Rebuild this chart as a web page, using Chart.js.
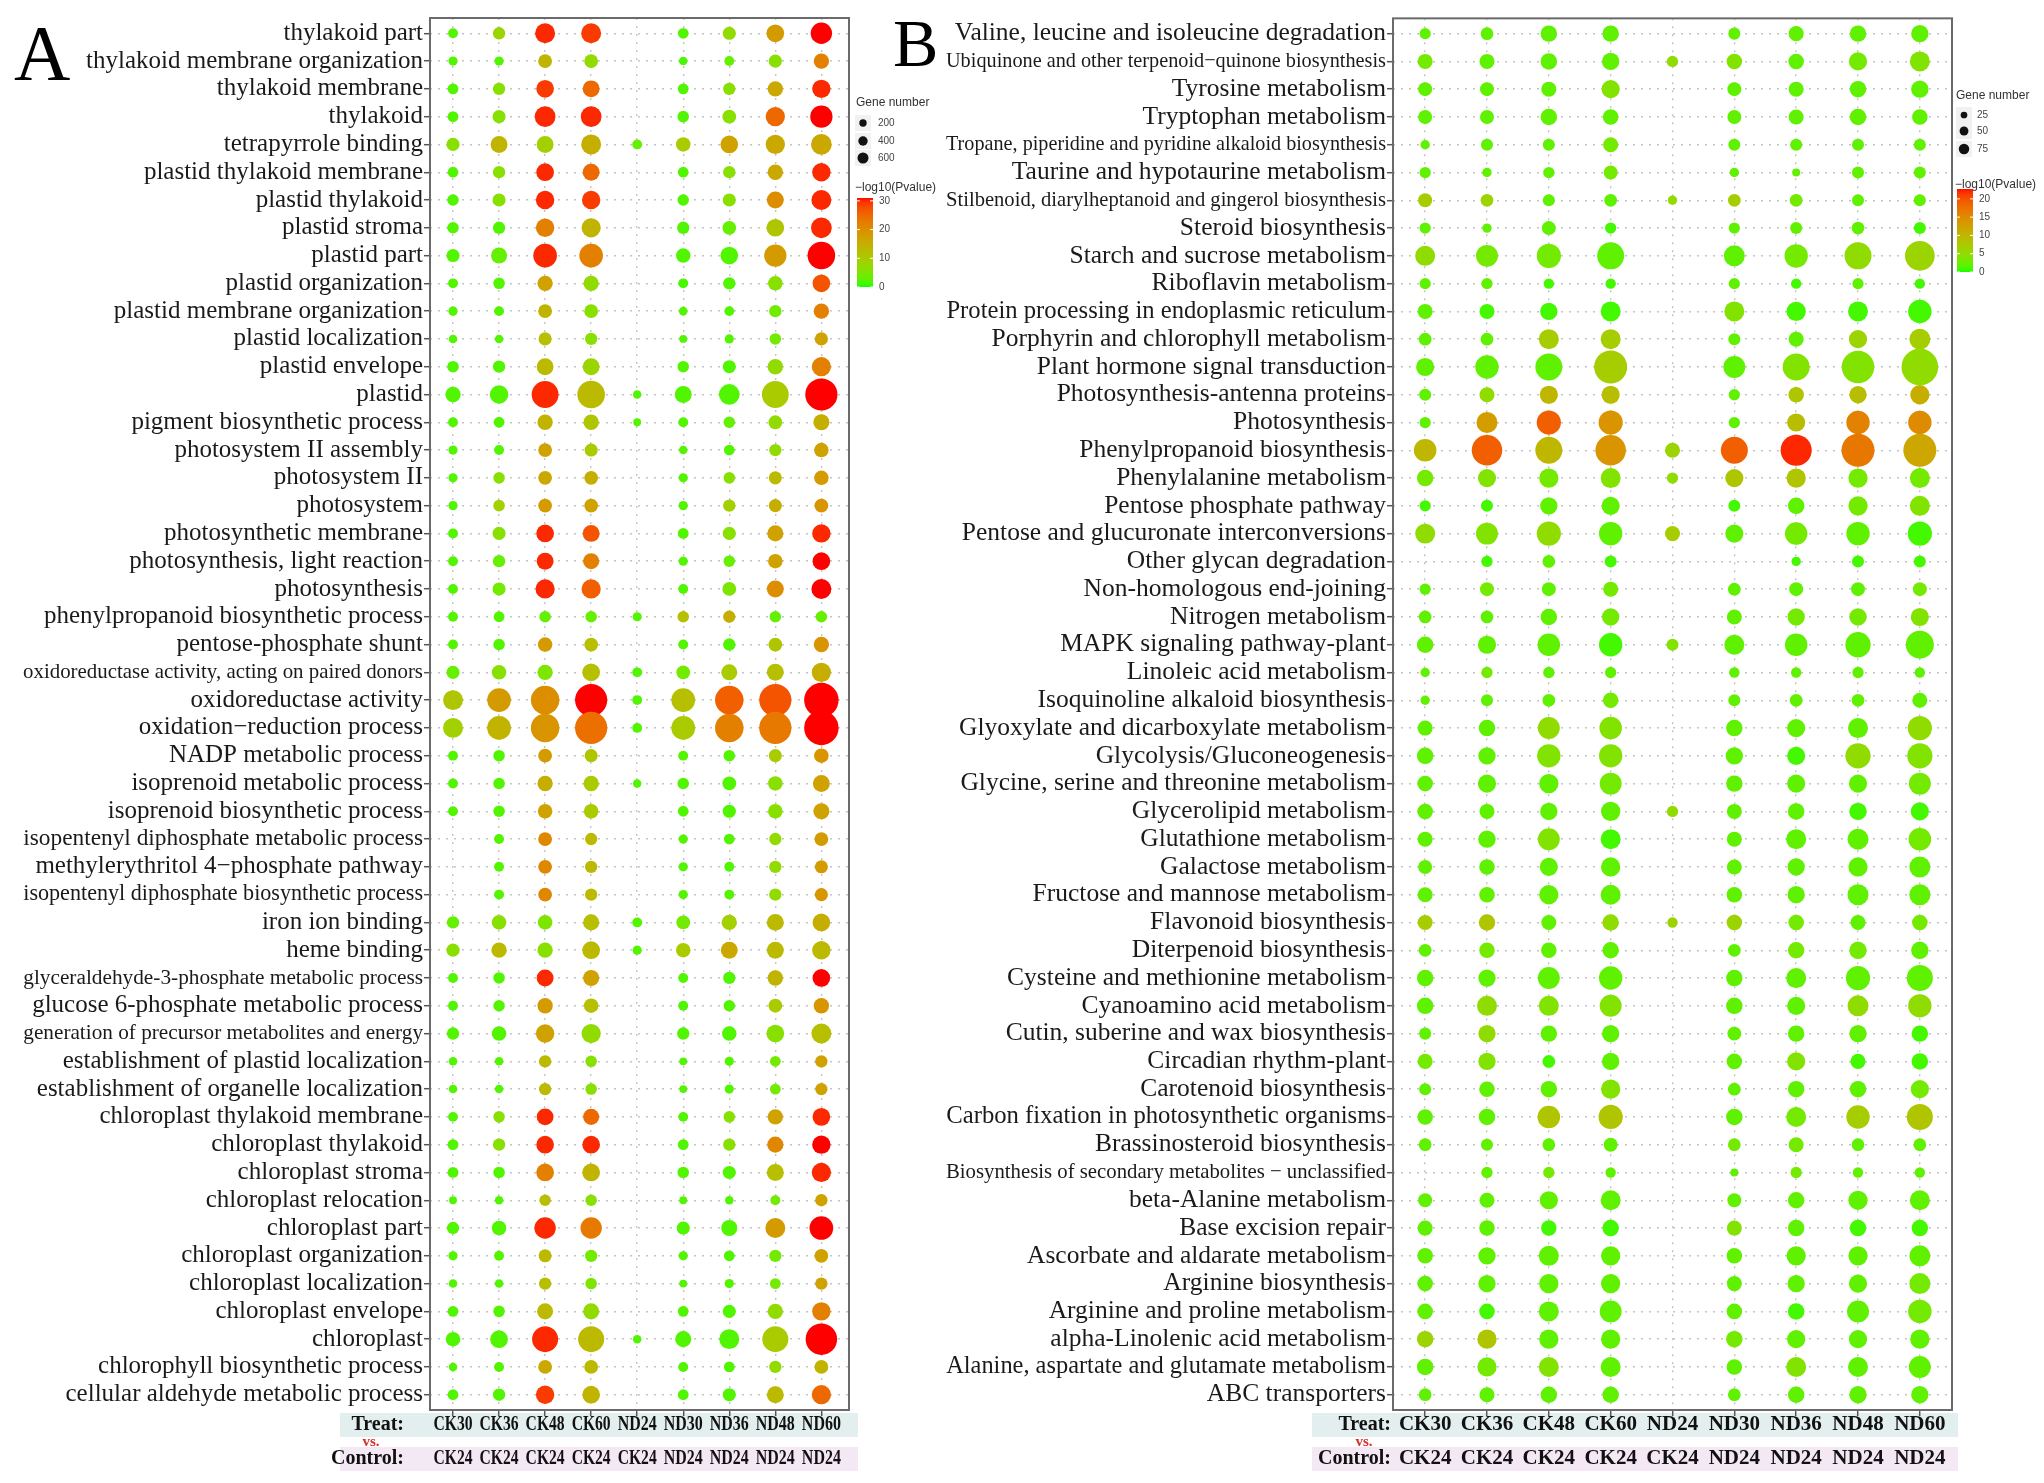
<!DOCTYPE html>
<html lang="en">
<head>
<meta charset="UTF-8">
<title>GO / KEGG enrichment bubble charts</title>
<script src="https://cdn.jsdelivr.net/npm/chart.js"></script>
<style>
  body { margin: 0; background: #fff; }
  #wrap { position: relative; width: 2044px; height: 1483px; }
  canvas { position: absolute; top: 0; }
  #chartA { left: 0; }
  #chartB { left: 880px; }
</style>
</head>
<body>
<div id="wrap">
  <canvas id="chartA" width="945" height="1483" style="width:945px;height:1483px"></canvas>
  <canvas id="chartB" width="1164" height="1483" style="width:1164px;height:1483px"></canvas>
</div>
<script>
// ---------- panel A : GO terms ----------
const treatA = ["CK30", "CK36", "CK48", "CK60", "ND24", "ND30", "ND36", "ND48", "ND60"];
const controlA = ["CK24", "CK24", "CK24", "CK24", "CK24", "ND24", "ND24", "ND24", "ND24"];
const termsA = [
  "thylakoid part", "thylakoid membrane organization", "thylakoid membrane", "thylakoid",
  "tetrapyrrole binding", "plastid thylakoid membrane", "plastid thylakoid", "plastid stroma",
  "plastid part", "plastid organization", "plastid membrane organization", "plastid localization",
  "plastid envelope", "plastid", "pigment biosynthetic process", "photosystem II assembly",
  "photosystem II", "photosystem", "photosynthetic membrane", "photosynthesis, light reaction",
  "photosynthesis", "phenylpropanoid biosynthetic process", "pentose-phosphate shunt",
  "oxidoreductase activity, acting on paired donors", "oxidoreductase activity",
  "oxidation\u2212reduction process", "NADP metabolic process", "isoprenoid metabolic process",
  "isoprenoid biosynthetic process", "isopentenyl diphosphate metabolic process",
  "methylerythritol 4\u2212phosphate pathway", "isopentenyl diphosphate biosynthetic process",
  "iron ion binding", "heme binding", "glyceraldehyde-3-phosphate metabolic process",
  "glucose 6-phosphate metabolic process", "generation of precursor metabolites and energy",
  "establishment of plastid localization", "establishment of organelle localization",
  "chloroplast thylakoid membrane", "chloroplast thylakoid", "chloroplast stroma",
  "chloroplast relocation", "chloroplast part", "chloroplast organization",
  "chloroplast localization", "chloroplast envelope", "chloroplast",
  "chlorophyll biosynthetic process", "cellular aldehyde metabolic process"
];
// gene number per term (rows) and comparison (columns); null = not enriched
const genesA = [
  [10, 33, 190, 190, null, 17, 43, 130, 235],
  [6, 6, 53, 53, null, 3, 10, 43, 80],
  [17, 33, 130, 112, null, 17, 33, 80, 148],
  [17, 43, 213, 213, null, 24, 53, 170, 265],
  [43, 112, 112, 190, 10, 65, 130, 170, 213],
  [17, 33, 130, 112, null, 17, 33, 80, 148],
  [24, 43, 148, 148, null, 24, 43, 112, 190],
  [24, 33, 148, 170, null, 33, 53, 130, 213],
  [43, 94, 315, 315, null, 65, 130, 265, 478],
  [10, 24, 80, 80, null, 10, 33, 65, 130],
  [6, 10, 53, 53, null, 3, 10, 33, 80],
  [3, 3, 43, 33, null, 1, 6, 24, 43],
  [24, 33, 112, 112, null, 24, 43, 80, 170],
  [80, 148, 445, 478, 3, 112, 213, 445, 714],
  [10, 17, 80, 80, 1, 10, 24, 53, 94],
  [6, 10, 53, 43, null, 3, 17, 33, 65],
  [6, 24, 53, 53, null, 6, 24, 43, 65],
  [6, 24, 53, 53, null, 6, 33, 43, 53],
  [10, 43, 130, 112, null, 17, 43, 94, 148],
  [10, 33, 112, 94, null, 6, 24, 65, 130],
  [10, 43, 170, 170, null, 10, 53, 112, 190],
  [10, 17, 24, 24, 6, 24, 33, 24, 24],
  [10, 24, 65, 53, null, 10, 33, 53, 80],
  [43, 65, 80, 130, 10, 53, 94, 112, 170],
  [190, 315, 520, 714, 10, 315, 520, 714, 850],
  [190, 315, 520, 714, 10, 315, 520, 714, 850],
  [10, 24, 53, 43, null, 10, 24, 43, 65],
  [10, 24, 80, 80, 3, 24, 53, 65, 112],
  [10, 24, 65, 65, null, 17, 43, 65, 94],
  [null, 10, 53, 33, null, 6, 17, 33, 53],
  [null, 10, 53, 33, null, 6, 10, 33, 43],
  [null, 10, 53, 33, null, 6, 10, 33, 43],
  [33, 65, 65, 94, 10, 53, 80, 112, 130],
  [43, 80, 80, 130, 6, 65, 112, 112, 148],
  [10, 24, 112, 94, null, 10, 33, 80, 130],
  [10, 24, 80, 65, null, 10, 24, 53, 80],
  [33, 65, 148, 170, null, 33, 65, 130, 190],
  [3, 3, 33, 24, null, 1, 6, 17, 33],
  [3, 3, 33, 24, null, 1, 6, 17, 33],
  [10, 24, 112, 94, null, 10, 24, 80, 130],
  [17, 33, 130, 130, null, 17, 33, 94, 148],
  [17, 24, 130, 130, null, 24, 43, 112, 170],
  [1, 3, 24, 24, null, 1, 3, 10, 33],
  [33, 65, 235, 235, null, 43, 94, 190, 315],
  [6, 10, 43, 33, null, 6, 17, 33, 53],
  [3, 3, 33, 24, null, 1, 6, 17, 33],
  [17, 24, 94, 94, null, 17, 43, 80, 148],
  [65, 130, 408, 408, 3, 94, 190, 408, 675],
  [3, 10, 53, 53, null, 10, 17, 33, 53],
  [17, 33, 148, 130, null, 17, 43, 112, 170]
];
// -log10(Pvalue)
const logpA = [
  [2, 8, 30, 29, null, 2, 7, 18, 31],
  [2, 2, 14, 7, null, 1.5, 3, 6, 22],
  [2, 6, 29, 25, null, 2, 6, 16, 30],
  [2, 6, 30, 30, null, 2, 6, 25, 31],
  [6, 14, 9, 15, 3, 10, 17, 16, 16],
  [2, 6, 30, 25, null, 2, 6, 16, 30],
  [2, 6, 30, 29, null, 2, 6, 20, 30],
  [2, 2, 22, 14, null, 2, 3, 11, 30],
  [2, 3, 30, 22, null, 2, 2, 18, 31],
  [2, 2, 17, 7, null, 1.5, 2, 6, 27],
  [2, 2, 14, 6, null, 2, 2, 4, 22],
  [2, 2, 12, 6, null, 2, 2, 4, 17],
  [2, 2, 13, 8, null, 2, 2, 7, 22],
  [2, 2, 30, 13, 2, 2, 2, 10, 31],
  [2, 2, 14, 11, 2, 2, 3, 7, 15],
  [2, 2, 17, 10, null, 2, 2, 7, 17],
  [2, 6, 16, 15, null, 2, 6, 13, 18],
  [2, 9, 18, 17, null, 2, 9, 15, 19],
  [2, 6, 30, 27, null, 2, 6, 17, 30],
  [2, 3, 30, 22, null, 2, 3, 17, 31],
  [2, 4, 30, 26, null, 2, 5, 20, 31],
  [2, 2, 3, 3, 2, 12, 15, 3, 3],
  [2, 2, 18, 12, null, 2, 2, 11, 19],
  [3, 6, 5, 12, 2, 4, 10, 12, 15],
  [11, 18, 20, 31, 2, 12, 26, 27, 31],
  [9, 14, 19, 24, 2, 10, 22, 23, 31],
  [2, 2, 18, 11, null, 2, 2, 10, 19],
  [2, 2, 15, 10, 2, 2, 2, 6, 17],
  [2, 2, 17, 10, null, 2, 2, 6, 17],
  [null, 2, 21, 13, null, 2, 2, 7, 18],
  [null, 2, 21, 13, null, 2, 2, 7, 18],
  [null, 2, 21, 13, null, 2, 2, 7, 19],
  [3, 6, 5, 12, 2, 4, 9, 13, 15],
  [6, 13, 6, 13, 2, 10, 16, 13, 13],
  [2, 2, 30, 17, null, 2, 2, 14, 31],
  [2, 2, 18, 12, null, 2, 2, 10, 19],
  [2, 2, 17, 7, null, 2, 2, 6, 12],
  [2, 2, 13, 6, null, 2, 2, 4, 17],
  [2, 2, 13, 6, null, 2, 2, 4, 17],
  [2, 6, 30, 25, null, 2, 6, 17, 30],
  [2, 6, 30, 30, null, 2, 6, 21, 31],
  [2, 2, 22, 14, null, 2, 2, 12, 30],
  [2, 2, 12, 6, null, 2, 2, 4, 17],
  [2, 2, 30, 23, null, 2, 2, 18, 31],
  [2, 2, 13, 4, null, 2, 2, 4, 17],
  [2, 2, 12, 5, null, 2, 2, 4, 17],
  [2, 2, 13, 7, null, 2, 2, 7, 22],
  [2, 2, 30, 13, 2, 2, 2, 10, 31],
  [2, 2, 16, 13, null, 2, 2, 7, 14],
  [2, 2, 29, 14, null, 2, 2, 13, 25]
];
const sizeBreaksA = [200, 400, 600];
const colorBreaksA = [0, 10, 20, 30];

// ---------- panel B : KEGG pathways ----------
const treatB = ["CK30", "CK36", "CK48", "CK60", "ND24", "ND30", "ND36", "ND48", "ND60"];
const controlB = ["CK24", "CK24", "CK24", "CK24", "CK24", "ND24", "ND24", "ND24", "ND24"];
const termsB = [
  "Valine, leucine and isoleucine degradation", "Ubiquinone and other terpenoid\u2212quinone biosynthesis",
  "Tyrosine metabolism", "Tryptophan metabolism", "Tropane, piperidine and pyridine alkaloid biosynthesis",
  "Taurine and hypotaurine metabolism", "Stilbenoid, diarylheptanoid and gingerol biosynthesis",
  "Steroid biosynthesis", "Starch and sucrose metabolism", "Riboflavin metabolism",
  "Protein processing in endoplasmic reticulum", "Porphyrin and chlorophyll metabolism",
  "Plant hormone signal transduction", "Photosynthesis-antenna proteins", "Photosynthesis",
  "Phenylpropanoid biosynthesis", "Phenylalanine metabolism", "Pentose phosphate pathway",
  "Pentose and glucuronate interconversions", "Other glycan degradation", "Non-homologous end-joining",
  "Nitrogen metabolism", "MAPK signaling pathway-plant", "Linoleic acid metabolism",
  "Isoquinoline alkaloid biosynthesis", "Glyoxylate and dicarboxylate metabolism",
  "Glycolysis/Gluconeogenesis", "Glycine, serine and threonine metabolism", "Glycerolipid metabolism",
  "Glutathione metabolism", "Galactose metabolism", "Fructose and mannose metabolism",
  "Flavonoid biosynthesis", "Diterpenoid biosynthesis", "Cysteine and methionine metabolism",
  "Cyanoamino acid metabolism", "Cutin, suberine and wax biosynthesis", "Circadian rhythm-plant",
  "Carotenoid biosynthesis", "Carbon fixation in photosynthetic organisms", "Brassinosteroid biosynthesis",
  "Biosynthesis of secondary metabolites \u2212 unclassified", "beta-Alanine metabolism",
  "Base excision repair", "Ascorbate and aldarate metabolism", "Arginine biosynthesis",
  "Arginine and proline metabolism", "alpha-Linolenic acid metabolism",
  "Alanine, aspartate and glutamate metabolism", "ABC transporters"
];
const genesB = [
  [4, 6, 13, 13, null, 5, 10, 13, 15],
  [10, 10, 13, 15, 4, 11, 11, 17, 22],
  [8, 8, 10, 17, null, 8, 10, 13, 15],
  [8, 8, 13, 11, null, 8, 10, 13, 11],
  [2, 5, 5, 10, null, 5, 5, 5, 5],
  [4, 2, 4, 8, null, 2, 1, 5, 5],
  [8, 6, 5, 6, 2, 6, 6, 5, 5],
  [4, 2, 8, 4, null, 4, 5, 6, 5],
  [22, 28, 36, 47, null, 25, 33, 47, 59],
  [4, 4, 3, 3, null, 4, 3, 4, 3],
  [10, 10, 15, 22, null, 22, 20, 22, 33],
  [6, 6, 22, 22, null, 5, 10, 17, 25],
  [17, 33, 47, 76, null, 28, 47, 73, 97],
  [5, 10, 17, 17, null, 4, 11, 15, 20],
  [4, 25, 36, 36, null, 4, 17, 33, 33],
  [30, 63, 47, 63, 10, 47, 66, 76, 76],
  [13, 17, 20, 22, 4, 17, 20, 20, 22],
  [4, 5, 15, 17, null, 5, 13, 20, 22],
  [22, 28, 36, 33, 10, 17, 30, 33, 36],
  [null, 4, 6, 5, null, null, 2, 5, 5],
  [4, 8, 8, 10, null, 6, 8, 8, 8],
  [6, 6, 13, 15, null, 10, 15, 15, 17],
  [13, 17, 30, 33, 5, 22, 30, 40, 51],
  [2, 4, 4, 4, null, 3, 3, 4, 3],
  [2, 5, 6, 11, null, 5, 6, 6, 10],
  [10, 13, 28, 30, null, 13, 17, 22, 36],
  [13, 15, 33, 33, null, 15, 17, 40, 40],
  [11, 17, 20, 28, null, 13, 17, 17, 28],
  [11, 10, 15, 20, 4, 10, 13, 15, 17],
  [10, 15, 28, 22, null, 10, 22, 25, 30],
  [8, 11, 17, 20, null, 10, 15, 20, 25],
  [10, 11, 20, 22, null, 11, 15, 25, 25],
  [10, 13, 10, 13, 3, 11, 11, 10, 11],
  [6, 11, 11, 13, null, 6, 13, 15, 15],
  [13, 15, 28, 33, null, 13, 22, 36, 43],
  [13, 22, 22, 28, null, 13, 17, 25, 33],
  [5, 15, 13, 15, null, 8, 13, 15, 13],
  [10, 15, 6, 15, null, 11, 17, 10, 13],
  [5, 11, 13, 20, null, 6, 13, 13, 17],
  [11, 13, 30, 36, null, 13, 22, 33, 43],
  [6, 5, 6, 8, null, 6, 10, 6, 6],
  [null, 4, 4, 3, null, 1, 4, 3, 3],
  [8, 10, 17, 22, null, 8, 13, 20, 22],
  [10, 11, 11, 13, null, 10, 13, 13, 13],
  [11, 15, 22, 20, null, 11, 20, 20, 25],
  [11, 15, 20, 20, null, 10, 15, 17, 25],
  [11, 11, 22, 28, null, 11, 13, 28, 33],
  [13, 20, 20, 20, null, 13, 17, 17, 20],
  [13, 20, 22, 22, null, 11, 22, 22, 28],
  [6, 10, 13, 13, null, 6, 13, 15, 15]
];
const logpB = [
  [2, 2, 2, 2, null, 2, 2, 2, 2],
  [3, 2, 2, 2, 5, 4, 2, 3, 4],
  [2, 2, 2, 4, null, 2, 2, 2, 2],
  [2, 2, 2, 2, null, 2, 2, 2, 2],
  [2, 2, 2, 3, null, 2, 2, 2, 2],
  [2, 2, 2, 3, null, 2, 2, 2, 2],
  [7, 6, 2, 2, 5, 7, 3, 2, 2],
  [2, 2, 2, 1, null, 2, 2, 2, 1],
  [5, 3, 3, 2, null, 2, 3, 5, 6],
  [2, 2, 1, 1, null, 2, 1, 2, 1],
  [2, 1, 1, 1, null, 4, 1, 1, 1],
  [2, 2, 7, 7, null, 2, 2, 6, 7],
  [2, 2, 2, 7, null, 2, 4, 4, 5],
  [2, 5, 10, 9, null, 2, 8, 9, 11],
  [2, 13, 19, 14, null, 2, 9, 16, 15],
  [10, 19, 10, 14, 6, 19, 22, 17, 12],
  [3, 4, 3, 4, 5, 8, 8, 3, 3],
  [1, 1, 2, 2, null, 1, 2, 3, 4],
  [5, 4, 5, 2, 7, 2, 3, 2, 1],
  [null, 1, 2, 1, null, null, 1, 1, 1],
  [2, 3, 2, 3, null, 2, 2, 2, 3],
  [2, 2, 2, 3, null, 2, 3, 3, 4],
  [2, 2, 2, 1, 4, 2, 2, 2, 2],
  [2, 3, 2, 2, null, 2, 2, 2, 2],
  [2, 2, 2, 3, null, 2, 2, 2, 2],
  [2, 2, 5, 4, null, 2, 2, 2, 5],
  [2, 2, 4, 4, null, 2, 1, 5, 4],
  [2, 2, 2, 3, null, 2, 2, 2, 3],
  [2, 2, 2, 2, 5, 2, 2, 1, 1],
  [2, 2, 4, 1, null, 2, 2, 2, 3],
  [2, 2, 2, 2, null, 2, 2, 2, 2],
  [2, 2, 2, 2, null, 2, 2, 2, 2],
  [7, 8, 2, 5, 6, 6, 3, 2, 3],
  [2, 3, 2, 2, null, 2, 3, 3, 2],
  [2, 2, 2, 2, null, 2, 2, 2, 2],
  [2, 5, 4, 4, null, 2, 2, 5, 5],
  [2, 5, 2, 2, null, 2, 2, 2, 1],
  [3, 4, 1, 2, null, 2, 4, 1, 1],
  [2, 2, 2, 4, null, 2, 2, 2, 3],
  [2, 2, 8, 8, null, 2, 3, 7, 8],
  [2, 2, 2, 2, null, 3, 3, 2, 2],
  [null, 2, 3, 2, null, 2, 3, 2, 2],
  [2, 2, 2, 2, null, 2, 2, 2, 2],
  [2, 2, 1, 1, null, 4, 2, 1, 1],
  [2, 2, 2, 2, null, 2, 2, 2, 2],
  [2, 2, 2, 2, null, 2, 2, 2, 3],
  [2, 1, 2, 2, null, 2, 1, 2, 3],
  [6, 8, 2, 2, null, 3, 2, 2, 2],
  [2, 3, 4, 2, null, 2, 4, 2, 2],
  [2, 2, 2, 2, null, 2, 2, 2, 2]
];
const sizeBreaksB = [25, 50, 75];
const colorBreaksB = [0, 5, 10, 15, 20];

// ---------- helpers ----------
const SERIF = '"Liberation Serif", "Times New Roman", serif';
const SANS = '"Liberation Sans", Arial, sans-serif';

// ggplot-style green -> red gradient, interpolated in CIE Lab
function toLin(c) { c /= 255; return c <= 0.04045 ? c / 12.92 : Math.pow((c + 0.055) / 1.055, 2.4); }
function fromLin(c) {
  c = c <= 0.0031308 ? 12.92 * c : 1.055 * Math.pow(c, 1 / 2.4) - 0.055;
  return Math.round(Math.max(0, Math.min(1, c)) * 255);
}
function rgbToLab(rgb) {
  const R = toLin(rgb[0]), G = toLin(rgb[1]), B = toLin(rgb[2]);
  const X = (0.4124 * R + 0.3576 * G + 0.1805 * B) / 0.95047;
  const Y = 0.2126 * R + 0.7152 * G + 0.0722 * B;
  const Z = (0.0193 * R + 0.1192 * G + 0.9505 * B) / 1.08883;
  const f = t => t > 0.008856 ? Math.cbrt(t) : 7.787 * t + 16 / 116;
  return [116 * f(Y) - 16, 500 * (f(X) - f(Y)), 200 * (f(Y) - f(Z))];
}
function labToRgb(lab) {
  const fy = (lab[0] + 16) / 116, fx = fy + lab[1] / 500, fz = fy - lab[2] / 200;
  const fi = t => t * t * t > 0.008856 ? t * t * t : (t - 16 / 116) / 7.787;
  const X = fi(fx) * 0.95047, Y = fi(fy), Z = fi(fz) * 1.08883;
  return [
    fromLin(3.2406 * X - 1.5372 * Y - 0.4986 * Z),
    fromLin(-0.9689 * X + 1.8758 * Y + 0.0415 * Z),
    fromLin(0.0557 * X - 0.2040 * Y + 1.0570 * Z)
  ];
}
const LOW = rgbToLab([0, 255, 0]), HIGH = rgbToLab([255, 0, 0]);
function gradColor(t) {
  t = Math.max(0, Math.min(1, t));
  const c = labToRgb(LOW.map((v, k) => v + (HIGH[k] - v) * t));
  return `rgb(${c[0]},${c[1]},${c[2]})`;
}

const panels = {
  A: {
    canvas: "chartA", offsetX: 0, canvasW: 945,
    treat: treatA, control: controlA, terms: termsA, genes: genesA, logp: logpA,
    sizeBreaks: sizeBreaksA, colorBreaks: colorBreaksA, pMax: 31,
    radius: n => 3.45 + 13.8 * Math.sqrt(n / 850),
    plot: { left: 430, right: 849, top: 18, bottom: 1410 },
    xRange: [0.5, 9.6], yRange: [0.45, 50.55],
    labelSize: 25, labelMaxW: 400,
    letter: { text: "A", x: 14, y: 79, size: 78 },
    band: { left: 340, right: 858, labelRight: 404, vsX: 371, colW: 39 },
    legend: { x: 856, titleY: 103, dotX: 863, dotY: [123, 141, 158], textX: 878, keyScale: 0.365,
              cTitleY: 188, barX: 857, barW: 16, barBottom: 287, barTop: 198 }
  },
  B: {
    canvas: "chartB", offsetX: 880, canvasW: 1164,
    treat: treatB, control: controlB, terms: termsB, genes: genesB, logp: logpB,
    sizeBreaks: sizeBreaksB, colorBreaks: colorBreaksB, pMax: 22.7,
    radius: n => 2.4 + 16.2 * Math.sqrt(n / 100),
    plot: { left: 1393, right: 1952, top: 18, bottom: 1410 },
    xRange: [0.48, 9.52], yRange: [0.45, 50.55],
    labelSize: 25.5, labelMaxW: 440,
    letter: { text: "B", x: 893, y: 66, size: 68 },
    band: { left: 1312, right: 1958, labelRight: 1391, vsX: 1364, colW: 54 },
    legend: { x: 1956, titleY: 96, dotX: 1964, dotY: [115, 131, 149], textX: 1977, keyScale: 0.32,
              cTitleY: 185, barX: 1957, barW: 16, barBottom: 272, barTop: 189 }
  }
};

const BAND_TREAT = { top: 1413, h: 24, y: 1425 };
const BAND_CTRL = { top: 1447, h: 24, y: 1459 };

const decor = {
  id: "decor",
  beforeDraw(chart, args, opts) {
    const p = opts.panel, ctx = chart.ctx, X = v => v - p.offsetX;
    ctx.save();
    ctx.fillStyle = "#e2efee";
    ctx.fillRect(X(p.band.left), BAND_TREAT.top, p.band.right - p.band.left, BAND_TREAT.h);
    ctx.fillStyle = "#f5e8f5";
    ctx.fillRect(X(p.band.left), BAND_CTRL.top, p.band.right - p.band.left, BAND_CTRL.h);
    ctx.restore();
  },
  afterDraw(chart, args, opts) {
    const p = opts.panel, ctx = chart.ctx, X = v => v - p.offsetX;
    const area = chart.chartArea, xs = chart.scales.x, ys = chart.scales.y;
    ctx.save();
    // frame
    ctx.strokeStyle = "#6a6a6a";
    ctx.lineWidth = 2;
    ctx.strokeRect(area.left, area.top, area.right - area.left, area.bottom - area.top);

    // row labels
    ctx.fillStyle = "#1a1a1a";
    ctx.textAlign = "right";
    ctx.textBaseline = "middle";
    p.terms.forEach((t, i) => {
      ctx.font = `${p.labelSize}px ${SERIF}`;
      const w = ctx.measureText(t).width;
      let size = p.labelSize;
      if (w > p.labelMaxW) size = Math.max(p.labelSize * 0.84, p.labelSize * p.labelMaxW / w);
      ctx.font = `${size}px ${SERIF}`;
      ctx.fillText(t, area.left - 7, ys.getPixelForValue(i + 1), p.labelMaxW);
    });

    // panel letter
    ctx.textAlign = "left";
    ctx.textBaseline = "alphabetic";
    ctx.fillStyle = "#000";
    ctx.font = `${p.letter.size}px ${SERIF}`;
    ctx.fillText(p.letter.text, X(p.letter.x), p.letter.y);

    // comparison labels under the plot
    ctx.textBaseline = "middle";
    ctx.font = `bold 20px ${SERIF}`;
    ctx.fillStyle = "#111";
    ctx.textAlign = "right";
    ctx.fillText("Treat:", X(p.band.labelRight), BAND_TREAT.y);
    ctx.fillText("Control:", X(p.band.labelRight), BAND_CTRL.y);
    ctx.textAlign = "center";
    ctx.font = `bold 21px ${SERIF}`;
    p.treat.forEach((t, j) => {
      const x = xs.getPixelForValue(j + 1);
      ctx.fillText(t, x, BAND_TREAT.y, p.band.colW);
      ctx.fillText(p.control[j], x, BAND_CTRL.y, p.band.colW);
    });
    ctx.fillStyle = "#d9302c";
    ctx.font = `bold 15px ${SERIF}`;
    ctx.fillText("vs.", X(p.band.vsX), 1442);

    // size legend
    const L = p.legend;
    ctx.textAlign = "left";
    ctx.fillStyle = "#333";
    ctx.font = `12px ${SANS}`;
    ctx.fillText("Gene number", X(L.x), L.titleY);
    p.sizeBreaks.forEach((n, k) => {
      ctx.fillStyle = "#f1f1f1";
      ctx.fillRect(X(L.dotX) - 8, L.dotY[k] - 8, 16, 16);
      ctx.beginPath();
      ctx.arc(X(L.dotX), L.dotY[k], p.radius(n) * L.keyScale, 0, Math.PI * 2);
      ctx.fillStyle = "#111";
      ctx.fill();
      ctx.fillStyle = "#444";
      ctx.font = `10px ${SANS}`;
      ctx.fillText(String(n), X(L.textX), L.dotY[k]);
    });

    // colour legend
    ctx.fillStyle = "#333";
    ctx.font = `12px ${SANS}`;
    ctx.fillText("\u2212log10(Pvalue)", X(L.x - 1), L.cTitleY);
    const perUnit = (L.barBottom - L.barTop) / p.pMax;
    for (let yy = L.barTop; yy < L.barBottom; yy++) {
      ctx.fillStyle = gradColor((L.barBottom - yy - 0.5) / perUnit / p.pMax);
      ctx.fillRect(X(L.barX), yy, L.barW, 1);
    }
    ctx.font = `10px ${SANS}`;
    p.colorBreaks.forEach(v => {
      const y = L.barBottom - v * perUnit;
      ctx.strokeStyle = "#fff";
      ctx.lineWidth = 1;
      ctx.beginPath();
      ctx.moveTo(X(L.barX), y); ctx.lineTo(X(L.barX) + 3, y);
      ctx.moveTo(X(L.barX) + L.barW - 3, y); ctx.lineTo(X(L.barX) + L.barW, y);
      ctx.stroke();
      ctx.fillStyle = "#444";
      ctx.fillText(String(v), X(L.barX) + L.barW + 6, y);
    });
    ctx.restore();
  }
};

function buildPanel(p) {
  const points = [];
  p.genes.forEach((row, i) => row.forEach((g, j) => {
    if (g == null) return;
    points.push({ x: j + 1, y: i + 1, r: p.radius(g), lp: p.logp[i][j] });
  }));
  const gridStyle = {
    color: "#c4c4c4", lineWidth: 1.4, drawTicks: true, tickLength: 6,
    tickColor: "#555", tickWidth: 1.5, tickBorderDash: []
  };
  const localLeft = p.plot.left - p.offsetX;
  const localRight = p.plot.right - p.offsetX;
  return new Chart(document.getElementById(p.canvas), {
    type: "bubble",
    data: {
      datasets: [{
        data: points,
        backgroundColor: ctx => ctx.raw ? gradColor(ctx.raw.lp / p.pMax) : "#000",
        borderWidth: 0,
        hoverRadius: 0
      }]
    },
    options: {
      responsive: false,
      devicePixelRatio: 1,
      animation: false,
      events: [],
      layout: { padding: { left: 0, right: p.canvasW - localRight, top: p.plot.top, bottom: 1483 - p.plot.bottom - 6 } },
      plugins: { legend: { display: false }, tooltip: { enabled: false }, decor: { panel: p } },
      scales: {
        x: {
          type: "linear", min: p.xRange[0], max: p.xRange[1],
          afterBuildTicks: s => { s.ticks = p.treat.map((_, j) => ({ value: j + 1 })); },
          afterFit: s => { s.height = 6; },
          ticks: { display: false },
          grid: gridStyle,
          border: { display: false, dash: [2, 6] }
        },
        y: {
          type: "linear", reverse: true, min: p.yRange[0], max: p.yRange[1],
          afterBuildTicks: s => { s.ticks = p.terms.map((_, i) => ({ value: i + 1 })); },
          afterFit: s => { s.width = localLeft; },
          ticks: { display: false },
          grid: gridStyle,
          border: { display: false, dash: [2, 6] }
        }
      }
    },
    plugins: [decor]
  });
}

buildPanel(panels.A);
buildPanel(panels.B);
</script>
</body>
</html>
